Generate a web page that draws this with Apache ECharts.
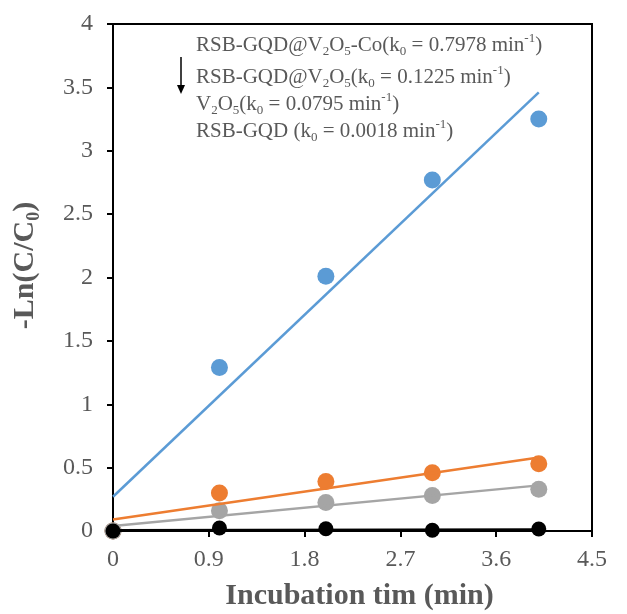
<!DOCTYPE html>
<html>
<head>
<meta charset="utf-8">
<script src="https://cdn.jsdelivr.net/npm/echarts@6/dist/echarts.min.js"></script>
<style>html,body{margin:0;padding:0;background:#fff}#c{width:627px;height:614px}</style>
</head>
<body>
<div id="c"></div>
<script>
const xValues = [0, 1, 2, 3, 4];
const coY = [0, 1.29, 2.01, 2.77, 3.25];
const gqdV2O5Y = [0, 0.30, 0.39, 0.46, 0.53];
const v2o5Y = [0, 0.16, 0.225, 0.28, 0.33];
const gqdY = [0, 0.024, 0.018, 0.006, 0.016];
// trend line end points: [x0, y0, x1, y1]
const coFit = [0, 0.27, 4, 3.46];
const gqdV2O5Fit = [0, 0.09, 4, 0.58];
const v2o5Fit = [0, 0.04, 4, 0.36];
const gqdFit = [0, 0.003, 4, 0.01];
const xTicks = { min: 0, max: 4.5, interval: 0.9 };
const yTicks = { min: 0, max: 4, interval: 0.5 };

const FONT = "'Liberation Serif', 'Times New Roman', serif";
const TXT = '#595959';

function pts(ys) { return xValues.map((x, i) => [x, ys[i]]); }
function fit(f) { return [[f[0], f[1]], [f[2], f[3]]]; }

const chart = echarts.init(document.getElementById('c'));
const rich = {
  m: { fontFamily: FONT, fontSize: 21, fill: TXT, color: TXT, lineHeight: 26 },
  s: { fontFamily: FONT, fontSize: 13, fill: TXT, color: TXT, lineHeight: 12, verticalAlign: 'bottom' },
  p: { fontFamily: FONT, fontSize: 13, fill: TXT, color: TXT, lineHeight: 12, verticalAlign: 'top' }
};
function ann(text, y) {
  return { type: 'text', left: 196, top: y, style: { text: text, rich: rich, fill: TXT, font: '21px ' + FONT } };
}
chart.setOption({
  animation: false,
  grid: { left: 113, right: 35, top: 24, bottom: 83, outerBoundsMode: 'none', containLabel: false, show: true, borderColor: '#000', borderWidth: 2, backgroundColor: 'transparent' },
  xAxis: {
    type: 'value', min: xTicks.min, max: xTicks.max, interval: xTicks.interval,
    name: 'Incubation tim (min)', nameLocation: 'middle', nameGap: 50,
    nameTextStyle: { fontFamily: FONT, fontSize: 30, fontWeight: 'bold', color: TXT, padding: [0, 0, 0, 14] },
    axisLine: { lineStyle: { color: '#000', width: 2 } },
    axisTick: { show: true, inside: false, length: 6, lineStyle: { color: '#000', width: 2 } },
    axisLabel: { fontFamily: FONT, fontSize: 24, color: TXT, margin: 17, formatter: v => String(+v.toFixed(1)) },
    splitLine: { show: false }
  },
  yAxis: {
    type: 'value', min: yTicks.min, max: yTicks.max, interval: yTicks.interval,
    name: '{t|-Ln(C/C}{u|0}{t|)}', nameLocation: 'middle', nameGap: 70, nameRotate: 90,
    nameTextStyle: {
      padding: [0, 0, 0, 24],
      rich: {
        t: { fontFamily: FONT, fontSize: 30, fontWeight: 'bold', color: TXT, lineHeight: 36 },
        u: { fontFamily: FONT, fontSize: 18, fontWeight: 'bold', color: TXT, lineHeight: 18, verticalAlign: 'bottom' }
      }
    },
    axisLine: { lineStyle: { color: '#000', width: 2 } },
    axisTick: { show: true, inside: false, length: 6, lineStyle: { color: '#000', width: 2 } },
    axisLabel: { fontFamily: FONT, fontSize: 24, color: TXT, margin: 20, formatter: v => String(+v.toFixed(1)) },
    splitLine: { show: false }
  },
  graphic: [
    ann('{m|RSB-GQD@V}{s|2}{m|O}{s|5}{m|-Co(k}{s|0}{m| = 0.7978 min}{p|-1}{m|)}', 32),
    ann('{m|RSB-GQD@V}{s|2}{m|O}{s|5}{m|(k}{s|0}{m| = 0.1225 min}{p|-1}{m|)}', 64),
    ann('{m|V}{s|2}{m|O}{s|5}{m|(k}{s|0}{m| = 0.0795 min}{p|-1}{m|)}', 91),
    ann('{m|RSB-GQD (k}{s|0}{m| = 0.0018 min}{p|-1}{m|)}', 118),
    { type: 'line', shape: { x1: 181, y1: 57, x2: 181, y2: 90 }, style: { stroke: '#000', lineWidth: 1.5 } },
    { type: 'polygon', shape: { points: [[177, 85], [185, 85], [181, 94]] }, style: { fill: '#000' } }
  ],
  series: [
    { type: 'scatter', data: pts(coY), symbolSize: 17, itemStyle: { color: '#5B9BD5', opacity: 1 }, z: 2 },
    { type: 'scatter', data: pts(gqdV2O5Y), symbolSize: 17, itemStyle: { color: '#ED7D31', opacity: 1 }, z: 2 },
    { type: 'scatter', data: pts(v2o5Y), symbolSize: 17, itemStyle: { color: '#A5A5A5', opacity: 1 }, z: 2 },
    { type: 'line', data: fit(coFit), showSymbol: false, symbol: 'none', lineStyle: { color: '#5B9BD5', width: 2.5 }, z: 3 },
    { type: 'line', data: fit(gqdV2O5Fit), showSymbol: false, symbol: 'none', lineStyle: { color: '#ED7D31', width: 2.5 }, z: 3 },
    { type: 'line', data: fit(v2o5Fit), showSymbol: false, symbol: 'none', lineStyle: { color: '#A5A5A5', width: 2.5 }, z: 3 },
    { type: 'line', data: fit(gqdFit), showSymbol: false, symbol: 'none', lineStyle: { color: '#000', width: 3 }, z: 4 },
    { type: 'scatter', data: pts(gqdY), symbolSize: 15, itemStyle: { color: '#000', opacity: 1 }, z: 5 }
  ]
});
</script>
</body>
</html>
